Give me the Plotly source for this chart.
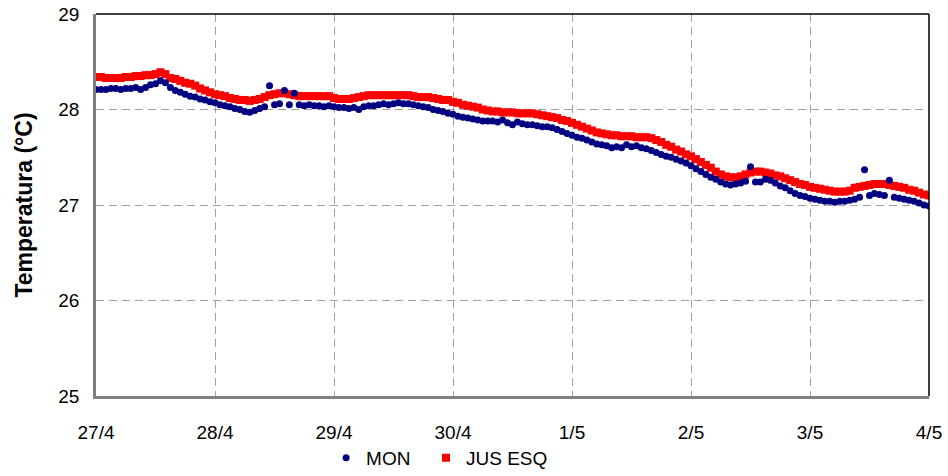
import plotly.graph_objects as go
import pandas as pd

# hourly readings from 27/4 00:00 to 4/5 00:00
start = "2014-04-27 00:00"
n_points = 169
times = pd.date_range(start, periods=n_points, freq="h")

mon = [
    28.21, 28.21, 28.21, 28.22, 28.22, 28.21, 28.22, 28.22, 28.23, 28.21, 28.23, 28.26,
    28.27, 28.30, 28.28, 28.23, 28.20, 28.18, 28.16, 28.14, 28.13, 28.11, 28.10, 28.08,
    28.07, 28.05, 28.04, 28.03, 28.01, 28.00, 27.98, 27.97, 27.99, 28.01, 28.03, 28.25,
    28.05, 28.06, 28.20, 28.05, 28.17, 28.05, 28.04, 28.05, 28.04, 28.04, 28.03, 28.04,
    28.03, 28.02, 28.02, 28.01, 28.02, 28.00, 28.03, 28.04, 28.04, 28.05, 28.06, 28.05,
    28.06, 28.07, 28.06, 28.06, 28.05, 28.04, 28.03, 28.02, 28.00, 27.99, 27.98, 27.96,
    27.95, 27.93, 27.92, 27.91, 27.90, 27.89, 27.88, 27.88, 27.88, 27.87, 27.89, 27.86,
    27.84, 27.87, 27.85, 27.84, 27.84, 27.83, 27.82, 27.82, 27.81, 27.79, 27.77, 27.75,
    27.73, 27.71, 27.70, 27.68, 27.66, 27.64, 27.63, 27.62, 27.60, 27.61, 27.60, 27.63,
    27.61, 27.62, 27.60, 27.59, 27.57, 27.55, 27.53, 27.51, 27.50, 27.48, 27.46, 27.44,
    27.41, 27.38, 27.35, 27.32, 27.29, 27.27, 27.24, 27.22, 27.21, 27.22, 27.23, 27.25,
    27.40, 27.24, 27.24, 27.27, 27.26, 27.23, 27.20, 27.18, 27.15, 27.12, 27.10, 27.09,
    27.07, 27.06, 27.05, 27.04, 27.04, 27.03, 27.04, 27.04, 27.05, 27.06, 27.08, 27.37,
    27.10, 27.12, 27.11, 27.10, 27.26, 27.08, 27.07, 27.06, 27.05, 27.04, 27.02, 27.00,
    26.99,
]

jus_esq = [
    28.34, 28.34, 28.33, 28.33, 28.33, 28.33, 28.34, 28.34, 28.35, 28.35, 28.36, 28.36,
    28.37, 28.39, 28.37, 28.33, 28.32, 28.30, 28.28, 28.27, 28.25, 28.22, 28.20, 28.18,
    28.16, 28.15, 28.14, 28.12, 28.11, 28.10, 28.10, 28.09, 28.10, 28.11, 28.13, 28.15,
    28.16, 28.17, 28.17, 28.16, 28.15, 28.14, 28.14, 28.14, 28.14, 28.14, 28.14, 28.14,
    28.12, 28.11, 28.11, 28.11, 28.12, 28.13, 28.14, 28.15, 28.15, 28.15, 28.15, 28.15,
    28.15, 28.15, 28.15, 28.15, 28.14, 28.13, 28.13, 28.13, 28.12, 28.11, 28.10, 28.10,
    28.08, 28.07, 28.05, 28.04, 28.03, 28.02, 28.00, 27.99, 27.98, 27.98, 27.97, 27.97,
    27.97, 27.96, 27.96, 27.96, 27.96, 27.95, 27.94, 27.93, 27.92, 27.91, 27.89, 27.88,
    27.86, 27.84, 27.82, 27.80, 27.78, 27.76, 27.75, 27.74, 27.73, 27.73, 27.72, 27.72,
    27.72, 27.71, 27.71, 27.71, 27.70, 27.68, 27.66, 27.63, 27.61, 27.58, 27.56, 27.53,
    27.51, 27.48, 27.45, 27.42, 27.39, 27.35, 27.32, 27.30, 27.29, 27.29, 27.30, 27.32,
    27.34, 27.35, 27.35, 27.34, 27.33, 27.31, 27.30, 27.28, 27.26, 27.24, 27.22, 27.21,
    27.19, 27.18, 27.17, 27.16, 27.15, 27.14, 27.14, 27.14, 27.15, 27.18, 27.19, 27.20,
    27.21, 27.22, 27.22, 27.22, 27.21, 27.20, 27.19, 27.18, 27.16, 27.15, 27.13, 27.11,
    27.10,
]

tick_dates = pd.date_range("2014-04-27", periods=8, freq="D")
tick_labels = ["27/4", "28/4", "29/4", "30/4", "1/5", "2/5", "3/5", "4/5"]
y_ticks = [25, 26, 27, 28, 29]

font_family = "Liberation Sans"

fig = go.Figure()
fig.add_trace(go.Scatter(
    x=times, y=jus_esq, mode="markers", name="JUS ESQ",
    marker=dict(symbol="square", size=8, color="#FF0000"),
    legendrank=2,
))
fig.add_trace(go.Scatter(
    x=times, y=mon, mode="markers", name="MON\u00a0\u00a0",
    marker=dict(symbol="circle", size=7, color="#000080"),
    legendrank=1,
))

fig.update_layout(
    width=948, height=476,
    margin=dict(l=96, r=19, t=14, b=80, autoexpand=False),
    paper_bgcolor="white", plot_bgcolor="white",
    font=dict(family=font_family, size=19, color="black"),
    showlegend=True,
    legend=dict(orientation="h", xref="container", yref="container",
                x=0.344, xanchor="left", y=0.038, yanchor="middle",
                font=dict(size=19), itemwidth=30, tracegroupgap=0),
    xaxis=dict(
        range=[tick_dates[0], tick_dates[-1]],
        tickmode="array", tickvals=tick_dates, ticktext=tick_labels,
        showgrid=True, gridcolor="#A0A0A0", griddash="8px,5px", gridwidth=1,
        showline=True, linecolor="#808080", linewidth=2.5,
        ticks="", ticklabelstandoff=17, zeroline=False,
    ),
    yaxis=dict(
        range=[25, 29], tickvals=y_ticks,
        showgrid=True, gridcolor="#A0A0A0", griddash="8px,5px", gridwidth=1,
        showline=True, linecolor="#808080", linewidth=2.5,
        ticks="", ticklabelstandoff=10, zeroline=False,
        title=dict(text="<b>Temperatura (°C)</b>", font=dict(size=23), standoff=20),
    ),
)

# top and right frame lines
fig.add_shape(type="line", xref="paper", yref="paper", x0=0, x1=1, y0=1, y1=1,
              line=dict(color="black", width=1.5))
fig.add_shape(type="line", xref="paper", yref="paper", x0=1, x1=1, y0=0, y1=1,
              line=dict(color="black", width=1.5))

fig.write_html(
    "out.html",
    config={"displayModeBar": False},
    post_script="document.body.style.margin='0';document.body.style.overflow='hidden';",
)
